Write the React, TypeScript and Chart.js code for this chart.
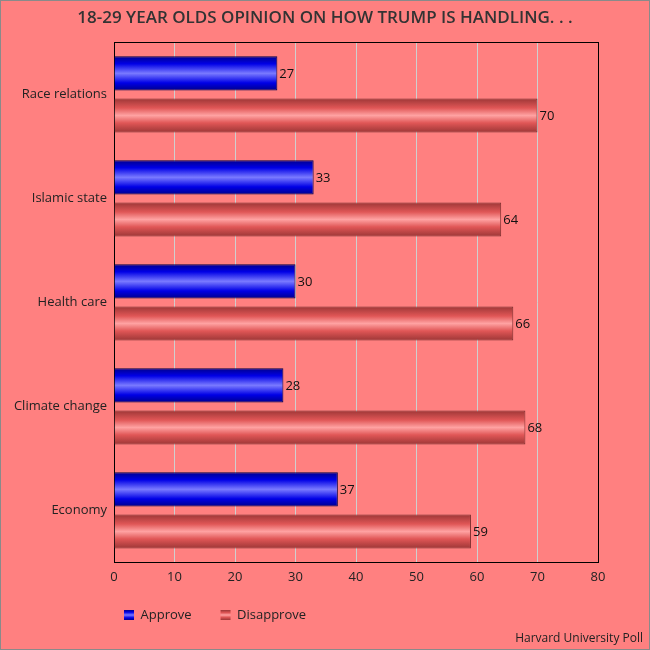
import React, { useEffect, useRef } from "react";
import { Chart, registerables } from "chart.js";

Chart.register(...registerables);

const categories = ["Race relations", "Islamic state", "Health care", "Climate change", "Economy"];
const approveValues = [27, 33, 30, 28, 37];
const disapproveValues = [70, 64, 66, 68, 59];
const seriesNames = ["Approve", "Disapprove"];
const titleText = "18-29 YEAR OLDS OPINION ON HOW TRUMP IS HANDLING. . .";
const footerText = "Harvard University Poll";

const FONT = "'Open Sans', 'Noto Sans', sans-serif";

const gradStops = [
  [
    [0, "#00008c"],
    [0.22, "#0000e6"],
    [0.5, "#7a7aff"],
    [0.78, "#0000e6"],
    [1, "#00008c"],
  ],
  [
    [0, "#9c3636"],
    [0.28, "#e05656"],
    [0.5, "#ffa2a2"],
    [0.72, "#e05656"],
    [1, "#9c3636"],
  ],
] as [number, string][][];

const borderCols = ["#00004a", "#7a2c2c"];

function makeGrad(ctx: CanvasRenderingContext2D, y0: number, y1: number, idx: number) {
  const g = ctx.createLinearGradient(0, y0, 0, y1);
  gradStops[idx].forEach(([o, c]) => g.addColorStop(o, c));
  return g;
}

const LEG_PAD = 29;
const LEG_BOX_X = 123;
const LEG_CY = 614;

const customPlugin = {
  id: "custom",
  afterLayout(chart: any) {
    const lg = chart.legend;
    if (lg) {
      const w = lg.right - lg.left;
      lg.left = LEG_BOX_X - LEG_PAD;
      lg.right = lg.left + w;
      const h = lg.bottom - lg.top;
      lg.top = LEG_CY - 6.5 - LEG_PAD;
      lg.bottom = lg.top + h;
    }
    const tb = chart.titleBlock;
    if (tb) {
      tb.left = 0;
      tb.right = chart.width;
      tb.width = chart.width;
    }
  },
  beforeDraw(chart: any) {
    const ctx = chart.ctx;
    const lg = chart.legend;
    if (lg && lg.legendItems) {
      lg.legendItems.forEach((it: any, i: number) => {
        it.fillStyle = makeGrad(ctx, LEG_CY - 5, LEG_CY + 5, i);
      });
    }
  },
  beforeDatasetsDraw(chart: any) {
    const ctx = chart.ctx;
    const a = chart.chartArea;
    ctx.save();
    ctx.strokeStyle = "#000";
    ctx.lineWidth = 1;
    ctx.strokeRect(Math.round(a.left) + 0.5, Math.round(a.top) + 0.5, Math.round(a.right - a.left), Math.round(a.bottom - a.top));
    ctx.restore();
    chart.data.datasets.forEach((ds: any, di: number) => {
      const meta = chart.getDatasetMeta(di);
      meta.data.forEach((el: any) => {
        const h = el.height;
        try {
          el.options.backgroundColor = makeGrad(ctx, el.y - h / 2, el.y + h / 2, di);
        } catch (e) {}
      });
    });
  },
  afterDatasetsDraw(chart: any) {
    const ctx = chart.ctx;
    ctx.save();
    ctx.font = `13px ${FONT}`;
    ctx.fillStyle = "#111";
    ctx.textBaseline = "middle";
    ctx.textAlign = "left";
    chart.data.datasets.forEach((ds: any, di: number) => {
      const meta = chart.getDatasetMeta(di);
      meta.data.forEach((el: any, i: number) => {
        ctx.fillText(String(ds.data[i]), el.x + 2, el.y + 1);
      });
    });
    ctx.restore();
  },
  afterDraw(chart: any) {
    const ctx = chart.ctx;
    ctx.save();
    ctx.font = `12px ${FONT}`;
    ctx.fillStyle = "#222";
    ctx.textBaseline = "middle";
    ctx.textAlign = "right";
    ctx.fillText(footerText, chart.width - 6, 638);
    ctx.restore();
  },
};

export default function App() {
  const ref = useRef<HTMLCanvasElement | null>(null);
  useEffect(() => {
    if (!ref.current) return;
    Chart.defaults.font.family = FONT;
    const chart = new Chart(ref.current, {
      type: "bar",
      data: {
        labels: categories,
        datasets: [
          {
            label: seriesNames[0],
            data: approveValues,
            backgroundColor: () => "#0000e6",
            borderColor: borderCols[0],
            borderWidth: 1,
            categoryPercentage: 0.81,
            barPercentage: 0.81,
          },
          {
            label: seriesNames[1],
            data: disapproveValues,
            backgroundColor: () => "#e05656",
            borderColor: borderCols[1],
            borderWidth: 1,
            categoryPercentage: 0.81,
            barPercentage: 0.81,
          },
        ],
      },
      options: {
        indexAxis: "y",
        animation: false,
        responsive: false,
        events: [],
        layout: { padding: { left: 0, right: 51, top: 0, bottom: 5 } },
        scales: {
          x: {
            min: 0,
            max: 80,
            ticks: { stepSize: 10, padding: 7, color: "#222", font: { size: 13 } },
            grid: { color: "#cfcfcf", drawTicks: false, lineWidth: 1 },
            border: { display: false },
          },
          y: {
            ticks: { padding: 7, color: "#222", font: { size: 13 } },
            grid: { display: false, drawTicks: false },
            border: { display: false },
            afterFit(scale: any) {
              scale.width = 113;
            },
          },
        },
        plugins: {
          title: {
            display: true,
            text: titleText,
            color: "#333",
            font: { size: 17, weight: "600" },
            lineHeight: 1.1,
            padding: { top: 7, bottom: 14 },
          },
          legend: {
            display: true,
            position: "bottom",
            align: "start",
            labels: {
              boxWidth: 10,
              boxHeight: 10,
              padding: LEG_PAD,
              color: "#222",
              font: { size: 13 },
              generateLabels: (chart: any) =>
                chart.data.datasets.map((ds: any, i: number) => ({
                  text: ds.label,
                  fillStyle: "#888",
                  strokeStyle: borderCols[i],
                  lineWidth: 0,
                  hidden: false,
                  datasetIndex: i,
                  fontColor: "#222",
                })),
            },
          },
          tooltip: { enabled: false },
        },
      },
      plugins: [customPlugin],
    });
    return () => chart.destroy();
  }, []);

  return (
    <div
      style={{
        position: "fixed",
        left: 0,
        top: 0,
        width: 650,
        height: 650,
        boxSizing: "border-box",
        border: "1px solid #8a8a8a",
        background: "#ff8080",
      }}
    >
      <canvas ref={ref} width={648} height={648} style={{ display: "block", width: 648, height: 648 }} />
    </div>
  );
}
